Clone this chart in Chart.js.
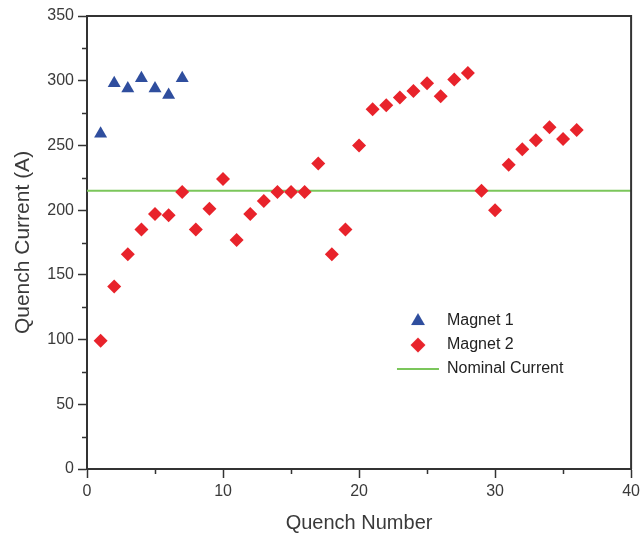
<!DOCTYPE html>
<html>
<head>
<meta charset="utf-8">
<script src="https://cdn.jsdelivr.net/npm/chart.js@4.4.1/dist/chart.umd.min.js"></script>
<style>
  html, body { margin: 0; padding: 0; background: #fff; }
  #wrap { width: 644px; height: 540px; }
</style>
</head>
<body>
<div id="wrap"><canvas id="chart"></canvas></div>
<script>
// quench number -> quench current (A)
const magnet1Quench = [1, 2, 3, 4, 5, 6, 7];
const magnet1Current = [259, 298, 294, 302, 294, 289, 302];

const magnet2Quench = [1, 2, 3, 4, 5, 6, 7, 8, 9, 10, 11, 12, 13, 14, 15, 16, 17, 18,
  19, 20, 21, 22, 23, 24, 25, 26, 27, 28, 29, 30, 31, 32, 33, 34, 35, 36];
const magnet2Current = [99, 141, 166, 185, 197, 196, 214, 185, 201, 224, 177, 197, 207, 214, 214, 214, 236, 166,
  185, 250, 278, 281, 287, 292, 298, 288, 301, 306, 215, 200, 235, 247, 254, 264, 255, 262];

const nominalCurrent = 215;
const xRange = [0, 40];
const yRange = [0, 350];
const xMajorStep = 10, xMinorStep = 5;
const yMajorStep = 50, yMinorStep = 25;

const blue = '#2f4e9e';
const red = '#e8232b';
const green = '#7bc65b';
const textColor = '#3a3a3a';
const axisColor = '#333333';
const fontFamily = 'Liberation Sans, Arial, sans-serif';

const toPoints = (xs, ys) => xs.map((x, i) => ({ x: x, y: ys[i] }));

// small fixed-size glyphs for the legend, so the wide line entry does not stretch them
function glyph(shape, r, color) {
  const c = document.createElement('canvas');
  const s = Math.ceil(r) * 2 + 2;
  c.width = s; c.height = s;
  const g = c.getContext('2d');
  const cx = s / 2, cy = s / 2;
  g.fillStyle = color;
  g.beginPath();
  if (shape === 'triangle') {
    g.moveTo(cx, cy - r);
    g.lineTo(cx + r * 0.866, cy + r / 2);
    g.lineTo(cx - r * 0.866, cy + r / 2);
  } else {
    g.moveTo(cx, cy - r);
    g.lineTo(cx + r, cy);
    g.lineTo(cx, cy + r);
    g.lineTo(cx - r, cy);
  }
  g.closePath();
  g.fill();
  return c;
}
const legendGlyphs = {
  'Magnet 1': glyph('triangle', 8, blue),
  'Magnet 2': glyph('diamond', 7.5, red)
};

// ticks between the labelled ones, shorter
const minorTicks = {
  id: 'minorTicks',
  afterDraw(chart) {
    const ctx = chart.ctx;
    const xs = chart.scales.x, ys = chart.scales.y;
    ctx.save();
    ctx.strokeStyle = axisColor;
    ctx.lineWidth = 1.5;
    ctx.beginPath();
    for (let v = xRange[0] + xMinorStep; v < xRange[1]; v += xMajorStep) {
      const px = Math.round(xs.getPixelForValue(v)) + 0.5;
      ctx.moveTo(px, xs.top);
      ctx.lineTo(px, xs.top + 5);
    }
    for (let v = yRange[0] + yMinorStep; v < yRange[1]; v += yMajorStep) {
      const py = Math.round(ys.getPixelForValue(v)) + 0.5;
      ctx.moveTo(ys.right, py);
      ctx.lineTo(ys.right - 5, py);
    }
    ctx.stroke();
    ctx.restore();
  }
};

// closes the plot box on top and right
const frame = {
  id: 'frame',
  afterDraw(chart) {
    const { ctx, chartArea: a } = chart;
    ctx.save();
    ctx.strokeStyle = axisColor;
    ctx.lineWidth = 2;
    ctx.beginPath();
    ctx.moveTo(a.left, a.top);
    ctx.lineTo(a.right, a.top);
    ctx.lineTo(a.right, a.bottom);
    ctx.stroke();
    ctx.restore();
  }
};

// move the legend into the lower right of the plot
const legendPlace = {
  id: 'legendPlace',
  afterLayout(chart) {
    const lg = chart.legend, a = chart.chartArea;
    lg.left = a.left + 0.555 * a.width;
    lg.top = a.top + 0.638 * a.height;
    lg.right = a.right;
    lg.bottom = a.bottom;
  }
};

new Chart(document.getElementById('chart'), {
  type: 'scatter',
  data: {
    datasets: [
      {
        label: 'Magnet 1',
        data: toPoints(magnet1Quench, magnet1Current),
        pointStyle: 'triangle',
        pointRadius: 7.5,
        pointHoverRadius: 7.5,
        backgroundColor: blue,
        borderColor: blue,
        pointBorderWidth: 0
      },
      {
        label: 'Magnet 2',
        data: toPoints(magnet2Quench, magnet2Current),
        pointStyle: 'rectRot',
        pointRadius: 7,
        pointHoverRadius: 7,
        backgroundColor: red,
        borderColor: red,
        pointBorderWidth: 0
      },
      {
        label: 'Nominal Current',
        type: 'line',
        data: xRange.map(x => ({ x: x, y: nominalCurrent })),
        borderColor: green,
        backgroundColor: green,
        borderWidth: 2,
        pointStyle: 'line',
        pointRadius: 0,
        pointBorderColor: green,
        pointBorderWidth: 2,
        fill: false
      }
    ]
  },
  options: {
    responsive: true,
    maintainAspectRatio: false,
    animation: false,
    layout: { padding: { top: 16, right: 9, left: 0, bottom: 0 } },
    plugins: {
      legend: {
        position: 'chartArea',
        align: 'start',
        labels: {
          usePointStyle: true,
          pointStyleWidth: 42,
          boxHeight: 11,
          padding: 8,
          color: '#222',
          font: { family: fontFamily, size: 16 },
          generateLabels(chart) {
            const items = Chart.defaults.plugins.legend.labels.generateLabels(chart);
            items.forEach(it => {
              if (legendGlyphs[it.text]) it.pointStyle = legendGlyphs[it.text];
            });
            return items;
          }
        }
      },
      tooltip: { enabled: false }
    },
    scales: {
      x: {
        type: 'linear',
        min: xRange[0],
        max: xRange[1],
        afterFit(scale) { scale.height = 71; },
        border: { color: axisColor, width: 2 },
        grid: { drawOnChartArea: false, drawTicks: true, tickLength: 9, tickColor: axisColor, tickWidth: 1.5 },
        ticks: {
          stepSize: xMajorStep,
          padding: 4,
          color: textColor,
          font: { family: fontFamily, size: 16 }
        },
        title: {
          display: true,
          text: 'Quench Number',
          color: textColor,
          padding: { top: 0, bottom: 5 },
          font: { family: fontFamily, size: 20, lineHeight: 1.2 }
        }
      },
      y: {
        type: 'linear',
        min: yRange[0],
        max: yRange[1],
        afterFit(scale) { scale.width = 87; },
        border: { color: axisColor, width: 2 },
        grid: { drawOnChartArea: false, drawTicks: true, tickLength: 9, tickColor: axisColor, tickWidth: 1.5 },
        ticks: {
          stepSize: yMajorStep,
          padding: 4,
          color: textColor,
          font: { family: fontFamily, size: 16 }
        },
        title: {
          display: true,
          text: 'Quench Current (A)',
          color: textColor,
          padding: { top: 11, bottom: 0 },
          font: { family: fontFamily, size: 21, lineHeight: 1.2 }
        }
      }
    }
  },
  plugins: [minorTicks, frame, legendPlace]
});
</script>
</body>
</html>
